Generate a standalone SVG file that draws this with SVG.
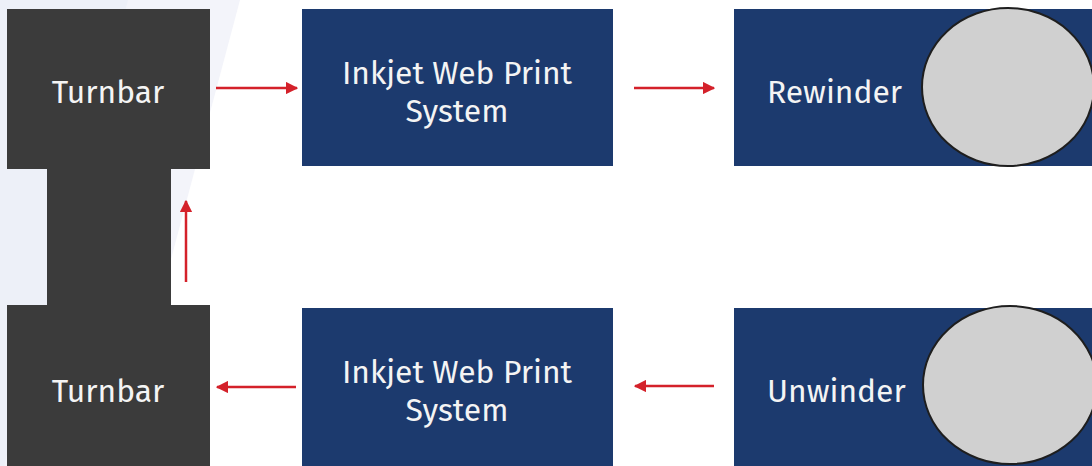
<svg xmlns="http://www.w3.org/2000/svg" width="1092" height="466" viewBox="0 0 1092 466">
<defs>
<style>
.lbl{font-family:"Fira Sans","Noto Sans","Open Sans",sans-serif;font-size:31.8px;font-weight:400;fill:#f4f4f4}
.dark{fill:#3b3b3b}
.blue{fill:#1c3a6e}
.roll{fill:#d0d0d0;stroke:#1e1e1e;stroke-width:2}
.con{stroke:#d4212a;stroke-width:2.5;fill:none;marker-end:url(#ah)}
</style>
<marker id="ah" viewBox="0 0 10 10" refX="9" refY="5" markerWidth="5" markerHeight="5" orient="auto" markerUnits="strokeWidth">
<path d="M0,0 L10,5 L0,10 z" fill="#d4212a"/>
</marker>
</defs>
<rect width="1092" height="466" fill="#ffffff"/>
<polygon points="0,0 240,0 116,466 0,466" fill="#f3f4fa"/>
<polygon points="0,0 128,0 4,466 0,466" fill="#edf0f8"/>

<g id="turnbar-top">
<rect class="dark" x="7" y="9" width="203" height="160"/>
<text class="lbl" x="108" y="103" text-anchor="middle">Turnbar</text>
</g>
<g id="turnbar-link">
<rect class="dark" x="47" y="168" width="124" height="138"/>
</g>
<g id="turnbar-bottom">
<rect class="dark" x="7" y="305" width="203" height="161"/>
<text class="lbl" x="108" y="402" text-anchor="middle">Turnbar</text>
</g>
<g id="inkjet-top">
<rect class="blue" x="302" y="9" width="311" height="157"/>
<text class="lbl" x="457" y="84" text-anchor="middle">Inkjet Web Print</text>
<text class="lbl" x="457" y="122" text-anchor="middle">System</text>
</g>
<g id="inkjet-bottom">
<rect class="blue" x="302" y="308" width="311" height="158"/>
<text class="lbl" x="457" y="383" text-anchor="middle">Inkjet Web Print</text>
<text class="lbl" x="457" y="421" text-anchor="middle">System</text>
</g>
<g id="rewinder">
<rect class="blue" x="734" y="9" width="358" height="157"/>
<ellipse class="roll" cx="1008" cy="87" rx="86" ry="79"/>
<text class="lbl" x="767" y="103">Rewinder</text>
</g>
<g id="unwinder">
<rect class="blue" x="734" y="308" width="358" height="158"/>
<ellipse class="roll" cx="1010" cy="385" rx="87" ry="79"/>
<text class="lbl" x="767" y="402">Unwinder</text>
</g>
<g id="connectors">
<line class="con" x1="216" y1="88" x2="297" y2="88"/>
<line class="con" x1="634" y1="88" x2="714" y2="88"/>
<line class="con" x1="296" y1="387" x2="217" y2="387"/>
<line class="con" x1="714" y1="386" x2="635" y2="386"/>
<line class="con" x1="186" y1="282" x2="186" y2="201"/>
</g>
</svg>
